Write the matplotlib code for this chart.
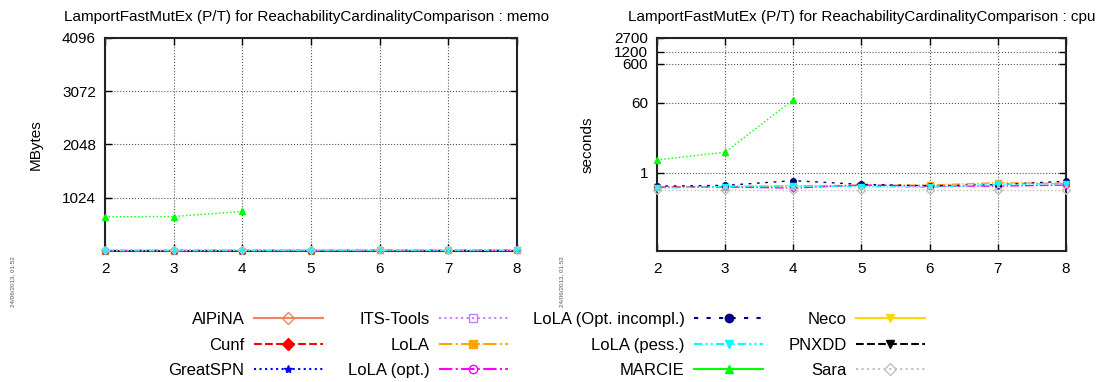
import numpy as np
import matplotlib.pyplot as plt
from matplotlib.lines import Line2D

plt.rcParams['font.family'] = ['Liberation Sans', 'DejaVu Sans']

# model instance parameter
x_vals = [2, 3, 4, 5, 6, 7, 8]

tools = ['AlPiNA', 'Cunf', 'GreatSPN', 'ITS-Tools', 'LoLA', 'LoLA (opt.)',
         'LoLA (Opt. incompl.)', 'LoLA (pess.)', 'MARCIE', 'Neco', 'PNXDD', 'Sara']

nan = np.nan
# memory in MBytes (nan = no result)
memory = {
    'AlPiNA': [nan] * 7,
    'Cunf': [nan] * 7,
    'GreatSPN': [nan] * 7,
    'ITS-Tools': [nan] * 7,
    'LoLA': [8, 8, 9, 9, 10, 10, 11],
    'LoLA (opt.)': [8, 8, 9, 9, 10, 10, 11],
    'LoLA (Opt. incompl.)': [8, 8, 9, 9, 10, 10, 11],
    'LoLA (pess.)': [8, 8, 9, 9, 10, 10, 11],
    'MARCIE': [660, 662, 760, nan, nan, nan, nan],
    'Neco': [nan] * 7,
    'PNXDD': [nan] * 7,
    'Sara': [12, 12, 13, 13, 14, 14, 15],
}
# cpu time in seconds
cpu = {
    'AlPiNA': [nan] * 7,
    'Cunf': [nan] * 7,
    'GreatSPN': [nan] * 7,
    'ITS-Tools': [nan] * 7,
    'LoLA': [0.43, 0.44, 0.46, 0.47, 0.48, 0.55, 0.53],
    'LoLA (opt.)': [0.42, 0.43, 0.40, 0.48, 0.45, 0.45, 0.48],
    'LoLA (Opt. incompl.)': [0.45, 0.47, 0.62, 0.50, 0.46, 0.49, 0.60],
    'LoLA (pess.)': [0.40, 0.44, 0.45, 0.44, 0.42, 0.50, 0.52],
    'MARCIE': [2.1, 3.3, 72, nan, nan, nan, nan],
    'Neco': [nan] * 7,
    'PNXDD': [nan] * 7,
    'Sara': [0.36, 0.36, 0.36, 0.36, 0.36, 0.36, 0.36],
}

# (color, plot linestyle, legend linestyle, marker, marker face)
styles = {
    'AlPiNA': ('#f4845f', '-', '-', 'D', 'none'),
    'Cunf': ('#ff0000', '--', '--', 'D', 'full'),
    'GreatSPN': ('#0000ff', ':', ':', '*', 'full'),
    'ITS-Tools': ('#c080ff', ':', ':', 's', 'none'),
    'LoLA': ('#ffa500', '-.', '-.', 's', 'full'),
    'LoLA (opt.)': ('#ff00ff', '-.', '-.', 'o', 'none'),
    'LoLA (Opt. incompl.)': ('#000080', (0, (2, 4)), (0, (2, 4)), 'o', 'full'),
    'LoLA (pess.)': ('#00ffff', (0, (4, 1.5, 1, 1.5, 1, 1.5)), (0, (4, 1.5, 1, 1.5, 1, 1.5)), 'v', 'full'),
    'MARCIE': ('#00ff00', ':', '-', '^', 'full'),
    'Neco': ('#ffd700', '-', '-', 'v', 'full'),
    'PNXDD': ('#000000', '--', '--', 'v', 'full'),
    'Sara': ('#c0c0c0', ':', ':', 'D', 'none'),
}

fig = plt.figure(figsize=(11.02, 3.82), dpi=100)
ax1 = fig.add_axes([0.0953, 0.343, 0.3739, 0.5576])
ax2 = fig.add_axes([0.5962, 0.343, 0.3711, 0.5576])

for name in tools:
    c, ls, _, m, fill = styles[name]
    mfc = 'none' if fill == 'none' else c
    for ax, data in ((ax1, memory), (ax2, cpu)):
        ax.plot(x_vals, data[name], color=c, linestyle=ls, linewidth=1.0,
                marker=m, markersize=4, markerfacecolor=mfc, markeredgecolor=c,
                clip_on=False, zorder=3)

for ax in (ax1, ax2):
    ax.set_xlim(2, 8)
    ax.set_xticks(x_vals)
    ax.grid(True, color='#555555', linestyle=':', linewidth=0.8)
    ax.tick_params(direction='in', top=True, right=True, labelsize=11,
                   length=5, width=1, pad=6.5)
    ax.tick_params(axis='x', pad=8)
    ax.tick_params(axis='y', which='minor', left=False, right=False)
    for sp in ax.spines.values():
        sp.set_linewidth(1.5)
        sp.set_color('#222222')

ax1.set_ylim(0, 4096)
ax1.set_yticks([1024, 2048, 3072, 4096])
ax1.set_ylabel('MBytes', fontsize=11, labelpad=14)
ax1.set_title('LamportFastMutEx (P/T) for ReachabilityCardinalityComparison : memo',
              fontsize=11, pad=12, x=0.49)

ax2.set_yscale('log')
ax2.set_ylim(0.01, 2700)
ax2.set_yticks([1, 60, 600, 1200, 2700])
ax2.set_yticklabels(['1', '60', '600', '1200', '2700'])
ax2.minorticks_off()
ax2.set_ylabel('seconds', fontsize=11, labelpad=14)
ax2.set_title('LamportFastMutEx (P/T) for ReachabilityCardinalityComparison : cpu',
              fontsize=11, pad=12, x=0.5)

fig.text(0.012, 0.262, '24/06/2013, 01:52', rotation=90, fontsize=4.5,
         color='#555555', ha='center', va='center')
fig.text(0.51, 0.262, '24/06/2013, 01:52', rotation=90, fontsize=4.5,
         color='#555555', ha='center', va='center')

handles = []
for name in tools:
    c, _, lls, m, fill = styles[name]
    mfc = 'none' if fill == 'none' else c
    handles.append(Line2D([0], [0], color=c, linestyle=lls, linewidth=1.5,
                          marker=m, markersize=6, markerfacecolor=mfc,
                          markeredgecolor=c))

fig.legend(handles, tools, ncol=4, loc='upper center', bbox_to_anchor=(0.496, 0.222),
           frameon=False, markerfirst=False, fontsize=12, handlelength=4.15,
           labelspacing=0.62, columnspacing=1.5, handletextpad=0.55)

fig.savefig('out.png', dpi=100)
